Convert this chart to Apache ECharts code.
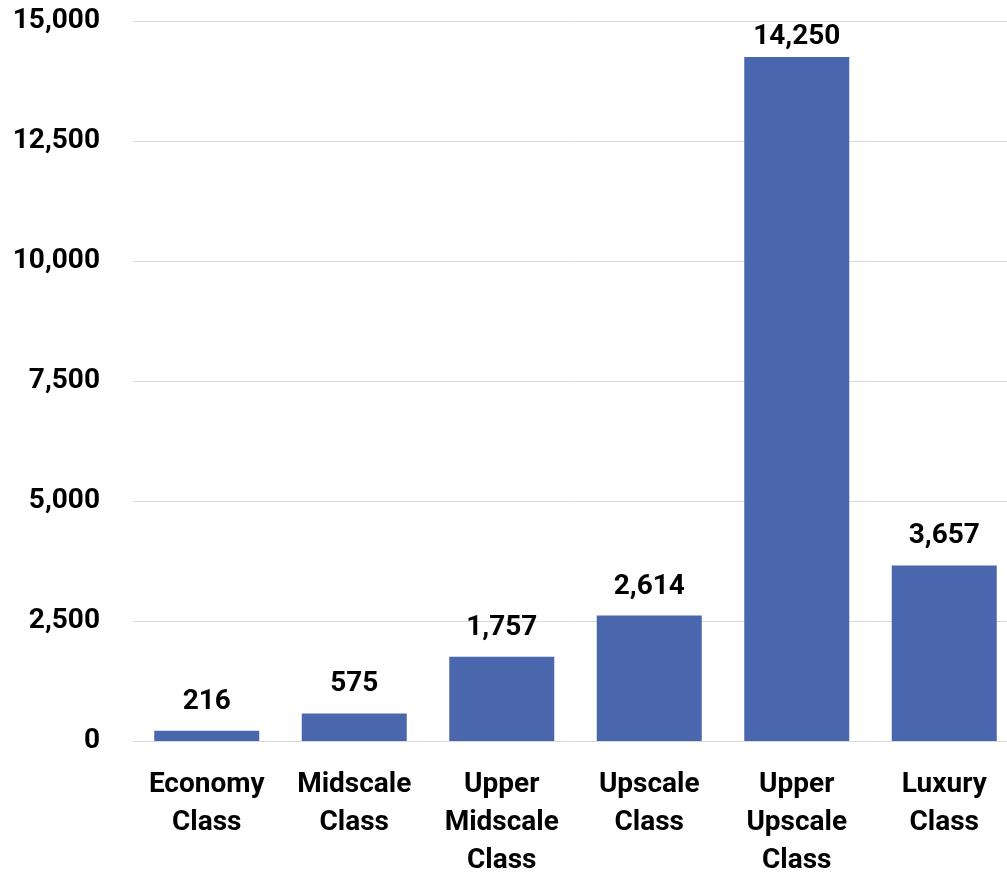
<!DOCTYPE html>
<html>
<head>
<meta charset="utf-8">
<script src="https://cdn.jsdelivr.net/npm/echarts@6/dist/echarts.min.js"></script>
<style>
html,body{margin:0;padding:0;background:#fff;}
#chart{width:1007px;height:873px;}
</style>
</head>
<body>
<div id="chart"></div>
<script>
const categories = ["Economy\nClass", "Midscale\nClass", "Upper\nMidscale\nClass", "Upscale\nClass", "Upper\nUpscale\nClass", "Luxury\nClass"];
const values = [216, 575, 1757, 2614, 14250, 3657];
const yTicks = [0, 2500, 5000, 7500, 10000, 12500, 15000];

const fmt = v => Number(v).toLocaleString('en-US');
const FONT = 'Roboto';
const yMax = yTicks[yTicks.length - 1];

const chart = echarts.init(document.getElementById('chart'));
chart.setOption({
  animation: false,
  backgroundColor: '#ffffff',
  grid: { left: 133, top: 21, width: 885, height: 720, containLabel: false, outerBoundsMode: 'none' },
  xAxis: {
    type: 'category',
    data: categories,
    axisLine: { show: true, lineStyle: { color: '#d9d9d9', width: 1 } },
    axisTick: { show: false },
    axisLabel: {
      color: '#000', fontFamily: FONT, fontWeight: 'bold', fontSize: 28,
      lineHeight: 38, margin: 25, interval: 0
    }
  },
  yAxis: {
    type: 'value',
    min: yTicks[0],
    max: yMax,
    interval: 2500,
    axisLine: { show: false },
    axisTick: { show: false },
    splitLine: { lineStyle: { color: '#d9d9d9', width: 1 } },
    axisLabel: {
      color: '#000', fontFamily: FONT, fontWeight: 'bold', fontSize: 28,
      margin: 33, formatter: v => fmt(v)
    }
  },
  series: [{
    type: 'bar',
    // labels near the top of the plot are kept inside it (as the original does)
    data: values.map(v => v > yMax * 0.9 ? { value: v, label: { distance: 6 } } : v),
    barWidth: 105,
    itemStyle: { color: '#4a66ad' },
    label: {
      show: true, position: 'top', distance: 15,
      color: '#000', fontFamily: FONT, fontWeight: 'bold', fontSize: 28,
      lineHeight: 28,
      formatter: p => fmt(p.value)
    }
  }]
});
</script>
</body>
</html>
